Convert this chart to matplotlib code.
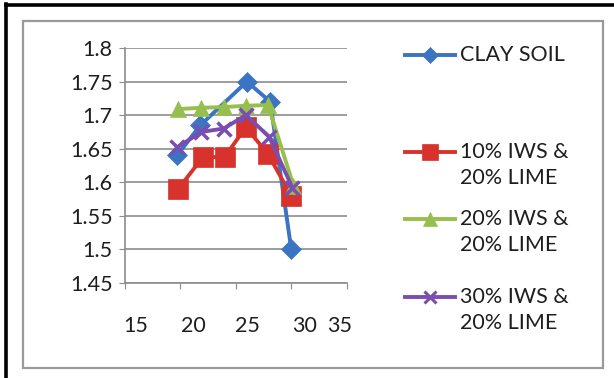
import matplotlib
matplotlib.use("Agg")
import matplotlib.pyplot as plt
from matplotlib.lines import Line2D
from matplotlib.patches import Rectangle
from matplotlib.transforms import ScaledTranslation

plt.rcParams['font.family'] = ['Lato', 'DejaVu Sans']

# Dry density vs moisture content
x_clay = [19.7, 21.8, 26.0, 28.1, 30.0]
clay_soil = [1.64, 1.685, 1.75, 1.72, 1.50]

x_iws10 = [19.8, 22.0, 24.0, 25.9, 27.9, 30.0]
iws10_lime20 = [1.59, 1.637, 1.638, 1.682, 1.642, 1.58]

x_iws20 = [19.8, 21.9, 23.9, 25.9, 27.9, 30.2]
iws20_lime20 = [1.709, 1.711, 1.712, 1.714, 1.715, 1.595]

x_iws30 = [19.7, 21.9, 23.9, 25.9, 28.0, 30.1]
iws30_lime20 = [1.652, 1.675, 1.68, 1.70, 1.668, 1.592]

series_labels = ["CLAY SOIL", "10% IWS &\n20% LIME", "20% IWS &\n20% LIME", "30% IWS &\n20% LIME"]
x_ticks = [15, 20, 25, 30, 35]
y_ticks = [1.45, 1.5, 1.55, 1.6, 1.65, 1.7, 1.75, 1.8]
y_tick_labels = ["1.45", "1.5", "1.55", "1.6", "1.65", "1.7", "1.75", "1.8"]

colors = ["#3a74c2", "#d7332c", "#96bf4e", "#7a4db0"]
markers = ["D", "s", "^", "x"]
msizes = [10, 14, 12, 10]
FS = 15.5
TXT = "#1e1e1e"

W, H = 614, 378
fig = plt.figure(figsize=(W / 100, H / 100), dpi=100)
fig.patch.set_facecolor("white")

# outer frame: black on top and left, grey chart border inside
fig.add_artist(Line2D([6 / W, 6 / W], [0, 1 - 4 / H], color="black", lw=2.6, transform=fig.transFigure))
fig.add_artist(Line2D([6 / W, 1], [1 - 5 / H, 1 - 5 / H], color="black", lw=2.6, transform=fig.transFigure))
fig.add_artist(Rectangle((23 / W, 1 - 368 / H), (603 - 23) / W, (368 - 21) / H,
                         fill=False, edgecolor="#9a9a9a", lw=1.6, transform=fig.transFigure))

ax = fig.add_axes([125 / W, 1 - 283 / H, (346.7 - 125) / W, (283 - 48) / H])
ax.set_xlim(15, 35)
ax.set_ylim(1.45, 1.8)
ax.set_xticks(x_ticks)
ax.set_yticks(y_ticks)
ax.set_yticklabels(y_tick_labels)
ax.grid(axis="y", color="#8c8c8c", lw=1.2)
ax.set_axisbelow(True)
for s in ["top", "right"]:
    ax.spines[s].set_visible(False)
for s in ["left", "bottom"]:
    ax.spines[s].set_color("#8c8c8c")
    ax.spines[s].set_linewidth(1.2)
ax.tick_params(axis="x", direction="out", length=4, color="#8c8c8c", pad=20, labelsize=FS, labelcolor=TXT)
ax.tick_params(axis="y", direction="out", length=4, color="#8c8c8c", pad=5, labelsize=FS, labelcolor=TXT)

# x labels sit slightly right of their ticks; the last one is pulled in
x_label_shift_px = [11, 13, 12, 13, -7]
for lbl, dx in zip(ax.get_xticklabels(), x_label_shift_px):
    lbl.set_transform(lbl.get_transform() + ScaledTranslation(dx / 100, 0, fig.dpi_scale_trans))

xs = [x_clay, x_iws10, x_iws20, x_iws30]
ys = [clay_soil, iws10_lime20, iws20_lime20, iws30_lime20]
for x, y, c, m, ms in zip(xs, ys, colors, markers, msizes):
    ax.plot(x, y, color=c, lw=2.8, marker=m, markersize=ms,
            markeredgewidth=2.5 if m == "x" else 0.5, markeredgecolor=c, clip_on=False)

# legend, handle aligned with the first line of each label
legend_y = [55, 152, 219, 297]
line_gap = 26
for lab, c, m, ms, ly in zip(series_labels, colors, markers, msizes, legend_y):
    yf = 1 - ly / H
    fig.add_artist(Line2D([405 / W, 455 / W], [yf, yf], color=c, lw=2.8, transform=fig.transFigure))
    fig.add_artist(Line2D([430 / W], [yf], color=c, marker=m, markersize=ms * 0.8,
                          markeredgewidth=2.2 if m == "x" else 0.5, markeredgecolor=c,
                          transform=fig.transFigure))
    for i, part in enumerate(lab.split("\n")):
        fig.text(460 / W, 1 - (ly + i * line_gap) / H, part, ha="left", va="center",
                 fontsize=FS, color=TXT)

fig.savefig("out.png", dpi=100)
